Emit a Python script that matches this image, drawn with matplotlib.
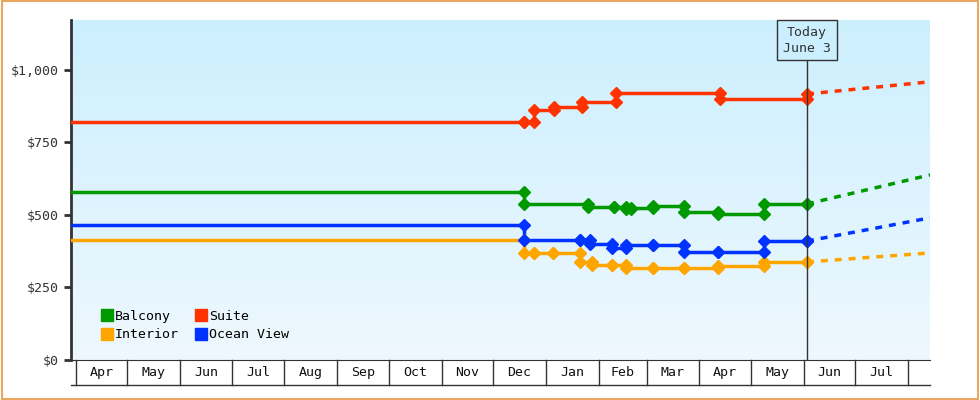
import numpy as np
import matplotlib
matplotlib.use("Agg")
import matplotlib.pyplot as plt
from matplotlib.patches import Rectangle
from matplotlib.lines import Line2D
import matplotlib.transforms as mtrans

# days counted from Apr 1
MONTHS = ["Apr", "May", "Jun", "Jul", "Aug", "Sep", "Oct", "Nov", "Dec",
          "Jan", "Feb", "Mar", "Apr", "May", "Jun", "Jul"]
MONTH_STARTS = [0, 30, 61, 91, 122, 153, 183, 214, 244, 275, 306, 334, 365, 395, 426, 456, 487]
TODAY = 428
START = -3
END = 500

# (day of price change, new price)
SUITE_DAYS = [START, 262, 268, 280, 296, 316, 377, 428]
SUITE_VALS = [822, 822, 862, 872, 891, 920, 899, 917]
SUITE_PROJ = 959

BALCONY_DAYS = [START, 262, 300, 315, 322, 325, 338, 356, 376, 403, 428]
BALCONY_VALS = [580, 538, 529, 529, 520, 525, 530, 511, 503, 538, 538]
BALCONY_PROJ = 638

OCEAN_DAYS = [START, 262, 295, 301, 314, 322, 338, 356, 376, 403, 428]
OCEAN_VALS = [465, 414, 414, 400, 385, 397, 397, 372, 372, 410, 410]
OCEAN_PROJ = 490

INTERIOR_DAYS = [START, 262, 268, 279, 295, 302, 314, 322, 338, 356, 376, 403, 428]
INTERIOR_VALS = [414, 369, 369, 369, 338, 328, 328, 316, 316, 316, 324, 338, 338]
INTERIOR_PROJ = 369

SERIES = [
    ("Balcony", BALCONY_DAYS, BALCONY_VALS, BALCONY_PROJ, "#009900"),
    ("Suite", SUITE_DAYS, SUITE_VALS, SUITE_PROJ, "#ff3300"),
    ("Interior", INTERIOR_DAYS, INTERIOR_VALS, INTERIOR_PROJ, "#ffa500"),
    ("Ocean View", OCEAN_DAYS, OCEAN_VALS, OCEAN_PROJ, "#0033ff"),
]

plt.rcParams["font.family"] = ["DejaVu Sans Mono"]
plt.rcParams["font.size"] = 9.5

fig = plt.figure(figsize=(9.8, 4.0), dpi=100)
fig.patches.append(Rectangle((0.002, 0.003), 0.996, 0.994, transform=fig.transFigure,
                             fill=False, ec="#e8a860", lw=1.5))
ax = fig.add_axes([71 / 980, 40 / 400, 859 / 980, 340 / 400])
ax.set_xlim(START, END)
ax.set_ylim(0, 1172)

# gradient background
grad = np.linspace(0, 1, 256).reshape(-1, 1)
ax.imshow(grad, extent=[START, END, 0, 1172], aspect="auto", origin="lower",
          cmap=matplotlib.colors.LinearSegmentedColormap.from_list("bg", ["#eef8fd", "#ccefff"]),
          zorder=0)

for name, days, vals, proj, col in SERIES:
    xs, ys = [days[0]], [vals[0]]
    for i in range(1, len(days)):
        xs += [days[i], days[i]]
        ys += [vals[i - 1], vals[i]]
    ax.plot(xs, ys, color=col, lw=2.5, zorder=3)
    ax.plot(xs[1:], ys[1:], ls="none", marker="D", ms=6, color=col, zorder=4)
    ax.plot([days[-1], END], [vals[-1], proj], color=col, lw=2.5, ls=(0, (2, 2)), zorder=3)

# today marker
ax.axvline(TODAY, color="#333333", lw=1, ymax=(1172 - 1172 * 40 / 340) / 1172 + 0.001, zorder=5)
ax.text(TODAY, 1172 * (1 - 20 / 340), "Today\nJune 3", ha="center", va="center",
        fontsize=9.5, color="#333333", linespacing=1.3, zorder=6,
        bbox=dict(boxstyle="square,pad=0.45", fc="#ccefff", ec="#333333", lw=1))

ax.set_yticks([0, 250, 500, 750, 1000])
ax.set_yticklabels(["$0", "$250", "$500", "$750", "$1,000"])
ax.tick_params(axis="y", direction="out", length=5, width=2, color="#333333", labelcolor="#333333")
ax.set_xticks([])
for s in ["top", "right"]:
    ax.spines[s].set_visible(False)
ax.spines["left"].set_linewidth(2)
ax.spines["left"].set_color("#333333")
ax.spines["bottom"].set_color("#333333")

# month boxes below axis
tr = mtrans.blended_transform_factory(ax.transData, ax.transAxes)
yb = -25 / 340
for m in MONTH_STARTS:
    ax.plot([m, m], [0, yb], transform=tr, color="#333333", lw=1, clip_on=False)
ax.plot([START, END], [yb, yb], transform=tr, color="#333333", lw=1, clip_on=False)
for i, lab in enumerate(MONTHS):
    ax.text((MONTH_STARTS[i] + MONTH_STARTS[i + 1]) / 2, yb / 2, lab, transform=tr,
            ha="center", va="center", color="#111111")

handles = [Line2D([], [], ls="none", marker="s", ms=9, color=c) for _, _, _, _, c in SERIES]
order = [0, 2, 1, 3]
ax.legend([handles[i] for i in order], [SERIES[i][0] for i in order], ncol=2,
          loc="lower left", bbox_to_anchor=(0.02, 0.02), frameon=False,
          handletextpad=0.1, columnspacing=1.2, handlelength=1.0, labelspacing=0.4)

fig.savefig("out.png", dpi=100)
